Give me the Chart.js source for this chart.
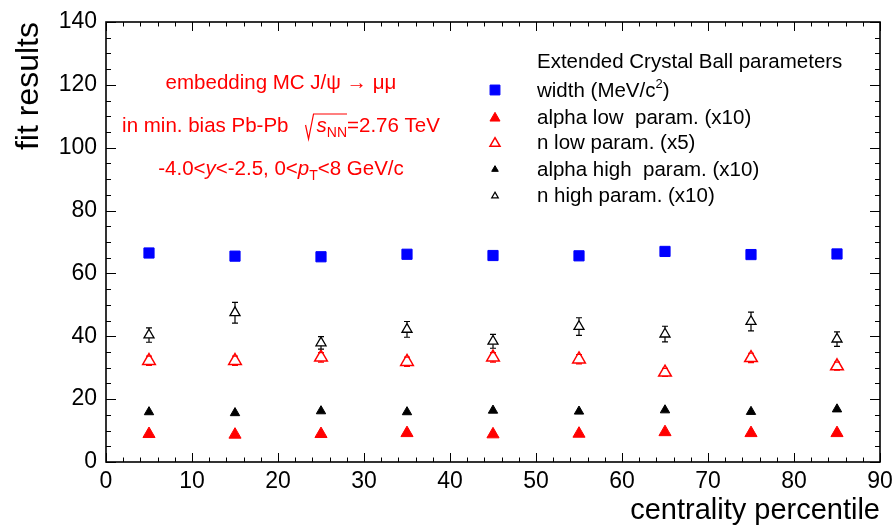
<!DOCTYPE html>
<html>
<head>
<meta charset="utf-8">
<script src="https://cdn.jsdelivr.net/npm/chart.js"></script>
<style>
  html, body { margin: 0; padding: 0; background: #fff; }
</style>
</head>
<body>
<canvas id="chart" width="892" height="528"></canvas>
<script>
// centrality bins (bin centres, %)
const centrality = [5, 15, 25, 35, 45, 55, 65, 75, 85];

// fitted parameters
const widthVals = [66.5, 65.5, 65.3, 66.1, 65.7, 65.6, 67.0, 66.0, 66.2];
const alphaLow = [8.9, 8.7, 8.9, 9.2, 8.8, 9.0, 9.5, 9.2, 9.2];
const nLow = [32.2, 32.2, 33.3, 31.9, 33.3, 32.7, 28.5, 33.1, 30.5];
const nLowErr = [1.5, 1.5, 1.5, 1.5, 1.5, 1.5, 1.3, 1.5, 1.3];
const alphaHigh = [15.9, 15.6, 16.2, 15.9, 16.4, 16.1, 16.5, 16.0, 16.8];
const nHigh = [40.4, 47.5, 37.9, 42.2, 38.4, 43.1, 40.7, 44.7, 39.1];
const nHighErr = [2.3, 3.3, 2.0, 2.5, 2.2, 2.8, 2.5, 3.0, 2.3];

const seriesLabels = [
    'width (MeV/c2)',
    'alpha low  param. (x10)',
    'n low param. (x5)',
    'alpha high  param. (x10)',
    'n high param. (x10)'
];

const FONT = "'Liberation Sans', Arial, sans-serif";

function toPoints(vals) {
    return centrality.map((c, i) => ({ x: c, y: vals[i] }));
}

// ROOT style frame with inward ticks on all four sides
const frameTicks = {
    id: 'frameTicks',
    afterDraw(chart) {
        const ctx = chart.ctx;
        const a = chart.chartArea;
        const xs = chart.scales.x;
        const ys = chart.scales.y;
        ctx.save();
        ctx.strokeStyle = '#000';
        ctx.lineWidth = 1.6;
        ctx.strokeRect(a.left, a.top, a.right - a.left, a.bottom - a.top);
        ctx.lineWidth = 1;
        ctx.beginPath();
        for (let v = 0; v <= 90; v += 2) {
            const px = Math.round(xs.getPixelForValue(v)) + 0.5;
            const len = v % 10 === 0 ? 9 : 4.5;
            ctx.moveTo(px, a.bottom); ctx.lineTo(px, a.bottom - len);
            ctx.moveTo(px, a.top); ctx.lineTo(px, a.top + len);
        }
        for (let v = 0; v <= 140; v += 5) {
            const py = Math.round(ys.getPixelForValue(v)) + 0.5;
            const len = v % 20 === 0 ? 10 : 5;
            ctx.moveTo(a.left, py); ctx.lineTo(a.left + len, py);
            ctx.moveTo(a.right, py); ctx.lineTo(a.right - len, py);
        }
        ctx.stroke();
        ctx.restore();
    }
};

// vertical error bars with small caps
const errorBars = {
    id: 'errorBars',
    afterDatasetsDraw(chart) {
        const ctx = chart.ctx;
        const ys = chart.scales.y;
        chart.data.datasets.forEach((ds, i) => {
            if (!ds.errors) return;
            const meta = chart.getDatasetMeta(i);
            ctx.save();
            ctx.strokeStyle = ds.borderColor;
            ctx.lineWidth = 1.2;
            meta.data.forEach((pt, j) => {
                const v = ds.data[j].y;
                const e = ds.errors[j];
                const yTop = ys.getPixelForValue(v + e);
                const yBot = ys.getPixelForValue(v - e);
                const r = ds.pointRadius;
                const x = pt.x;
                ctx.beginPath();
                if (yTop < pt.y - r) { ctx.moveTo(x, yTop); ctx.lineTo(x, pt.y - r); }
                if (yBot > pt.y + r / 2) { ctx.moveTo(x, pt.y + r / 2); ctx.lineTo(x, yBot); }
                ctx.moveTo(x - 3, yTop); ctx.lineTo(x + 3, yTop);
                ctx.moveTo(x - 3, yBot); ctx.lineTo(x + 3, yBot);
                ctx.stroke();
            });
            ctx.restore();
        });
    }
};

function measureRich(ctx, parts) {
    let total = 0;
    parts.forEach(p => {
        if (p.gap) { p.w = p.gap; } else { ctx.font = p.font; p.w = ctx.measureText(p.t).width; }
        total += p.w;
    });
    return total;
}

function renderRich(ctx, parts, x, baseline) {
    measureRich(ctx, parts);
    parts.forEach(p => {
        p.x = x;
        if (p.t) { ctx.font = p.font; ctx.fillText(p.t, x, baseline + (p.dy || 0)); }
        x += p.w;
    });
    return parts;
}

function richCentered(ctx, parts, cx, baseline) {
    const total = measureRich(ctx, parts);
    return renderRich(ctx, parts, cx - total / 2, baseline);
}

// red annotation text in the upper left
const annotations = {
    id: 'annotations',
    afterDraw(chart) {
        const ctx = chart.ctx;
        const f = '20.5px ' + FONT;
        const fi = 'italic 20.5px ' + FONT;
        const fs = '14px ' + FONT;
        const cx = 281;
        ctx.save();
        ctx.fillStyle = '#ff0000';
        ctx.strokeStyle = '#ff0000';
        ctx.textAlign = 'left';
        ctx.textBaseline = 'alphabetic';

        richCentered(ctx, [{ t: 'embedding MC J/\u03C8 \u2192 \u03BC\u03BC', font: f }], cx, 89);

        const l2 = richCentered(ctx, [
            { t: 'in min. bias Pb-Pb   ', font: f },
            { gap: 11 },
            { t: 's', font: fi },
            { t: 'NN', font: fs, dy: 5 },
            { t: '=2.76 TeV', font: f }
        ], cx, 132);
        const rx = l2[1].x;
        const top = 132 - 18;
        ctx.lineWidth = 1.2;
        ctx.beginPath();
        ctx.moveTo(rx, 132 - 7);
        ctx.lineTo(rx + 3, 132 + 7);
        ctx.lineTo(rx + 8, top);
        ctx.lineTo(l2[3].x + l2[3].w, top);
        ctx.stroke();

        richCentered(ctx, [
            { t: '-4.0<', font: f },
            { t: 'y', font: fi },
            { t: '<-2.5, 0<', font: f },
            { t: 'p', font: fi },
            { t: 'T', font: fs, dy: 5 },
            { t: '<8 GeV/c', font: f }
        ], cx, 175);
        ctx.restore();
    }
};

// legend box drawn inside the frame
const legendBox = {
    id: 'legendBox',
    afterDraw(chart) {
        const ctx = chart.ctx;
        const f = '20.5px ' + FONT;
        const textX = 537;
        const markX = 495;
        const rowsY = [90, 116.7, 142, 168.5, 195];
        const styles = [
            { pointStyle: 'rect', radius: 7, fill: '#0000ff', stroke: '#0000ff', bw: 1 },
            { pointStyle: 'triangle', radius: 5.8, fill: '#ff0000', stroke: '#ff0000', bw: 1 },
            { pointStyle: 'triangle', radius: 5.8, fill: 'rgba(0,0,0,0)', stroke: '#ff0000', bw: 1.5 },
            { pointStyle: 'triangle', radius: 3.8, fill: '#000', stroke: '#000', bw: 1 },
            { pointStyle: 'triangle', radius: 3.8, fill: 'rgba(0,0,0,0)', stroke: '#000', bw: 1.2 }
        ];
        ctx.save();
        ctx.fillStyle = '#000';
        ctx.textAlign = 'left';
        ctx.textBaseline = 'alphabetic';
        ctx.font = f;
        ctx.fillText('Extended Crystal Ball parameters', textX, 68);
        rowsY.forEach((y, i) => {
            const s = styles[i];
            ctx.fillStyle = s.fill;
            ctx.strokeStyle = s.stroke;
            ctx.lineWidth = s.bw;
            Chart.helpers.drawPoint(ctx, { pointStyle: s.pointStyle, radius: s.radius, rotation: 0, borderWidth: s.bw }, markX, y + (s.pointStyle === 'triangle' ? s.radius / 4 : 0));
            ctx.fillStyle = '#000';
            const base = y + 7;
            if (i === 0) {
                renderRich(ctx, [
                    { t: 'width (MeV/c', font: f },
                    { t: '2', font: '13px ' + FONT, dy: -9 },
                    { t: ')', font: f }
                ], textX, base);
            } else {
                ctx.font = f;
                ctx.fillText(seriesLabels[i], textX, base);
            }
        });
        ctx.restore();
    }
};

new Chart(document.getElementById('chart'), {
    type: 'scatter',
    data: {
        datasets: [
            {
                label: seriesLabels[0],
                data: toPoints(widthVals),
                pointStyle: 'rect',
                pointRadius: 7.2,
                backgroundColor: '#0000ff',
                borderColor: '#0000ff',
                borderWidth: 1
            },
            {
                label: seriesLabels[1],
                data: toPoints(alphaLow),
                pointStyle: 'triangle',
                pointRadius: 7,
                backgroundColor: '#ff0000',
                borderColor: '#ff0000',
                borderWidth: 1
            },
            {
                label: seriesLabels[2],
                data: toPoints(nLow),
                errors: nLowErr,
                pointStyle: 'triangle',
                pointRadius: 7.3,
                backgroundColor: 'rgba(0,0,0,0)',
                borderColor: '#ff0000',
                borderWidth: 1.5
            },
            {
                label: seriesLabels[3],
                data: toPoints(alphaHigh),
                pointStyle: 'triangle',
                pointRadius: 5.4,
                backgroundColor: '#000000',
                borderColor: '#000000',
                borderWidth: 1
            },
            {
                label: seriesLabels[4],
                data: toPoints(nHigh),
                errors: nHighErr,
                pointStyle: 'triangle',
                pointRadius: 5.8,
                backgroundColor: 'rgba(0,0,0,0)',
                borderColor: '#000000',
                borderWidth: 1.3
            }
        ]
    },
    options: {
        responsive: false,
        animation: false,
        devicePixelRatio: 1,
        layout: { padding: { left: 0, right: 12, top: 22, bottom: 0 } },
        plugins: {
            legend: { display: false },
            tooltip: { enabled: false }
        },
        scales: {
            x: {
                type: 'linear',
                min: 0,
                max: 90,
                afterFit(scale) {
                    scale.height = 66;
                    scale.paddingLeft = 0;
                    scale.paddingRight = 0;
                },
                grid: { display: false, drawTicks: false },
                border: { display: false },
                ticks: {
                    stepSize: 10,
                    padding: 6,
                    color: '#000',
                    font: { family: FONT, size: 23 },
                    maxRotation: 0
                },
                title: {
                    display: true,
                    text: 'centrality percentile',
                    align: 'end',
                    color: '#000',
                    font: { family: FONT, size: 29 },
                    padding: { top: 0, bottom: 0 }
                }
            },
            y: {
                min: 0,
                max: 140,
                afterFit(scale) {
                    scale.width = 106;
                    scale.paddingTop = 0;
                    scale.paddingBottom = 0;
                },
                grid: { display: false, drawTicks: false },
                border: { display: false },
                ticks: {
                    stepSize: 20,
                    padding: 9,
                    color: '#000',
                    font: { family: FONT, size: 23 }
                },
                title: {
                    display: true,
                    text: 'fit results',
                    align: 'end',
                    color: '#000',
                    font: { family: FONT, size: 32 },
                    padding: { top: 10, bottom: 0 }
                }
            }
        }
    },
    plugins: [frameTicks, errorBars, annotations, legendBox]
});
</script>
</body>
</html>
